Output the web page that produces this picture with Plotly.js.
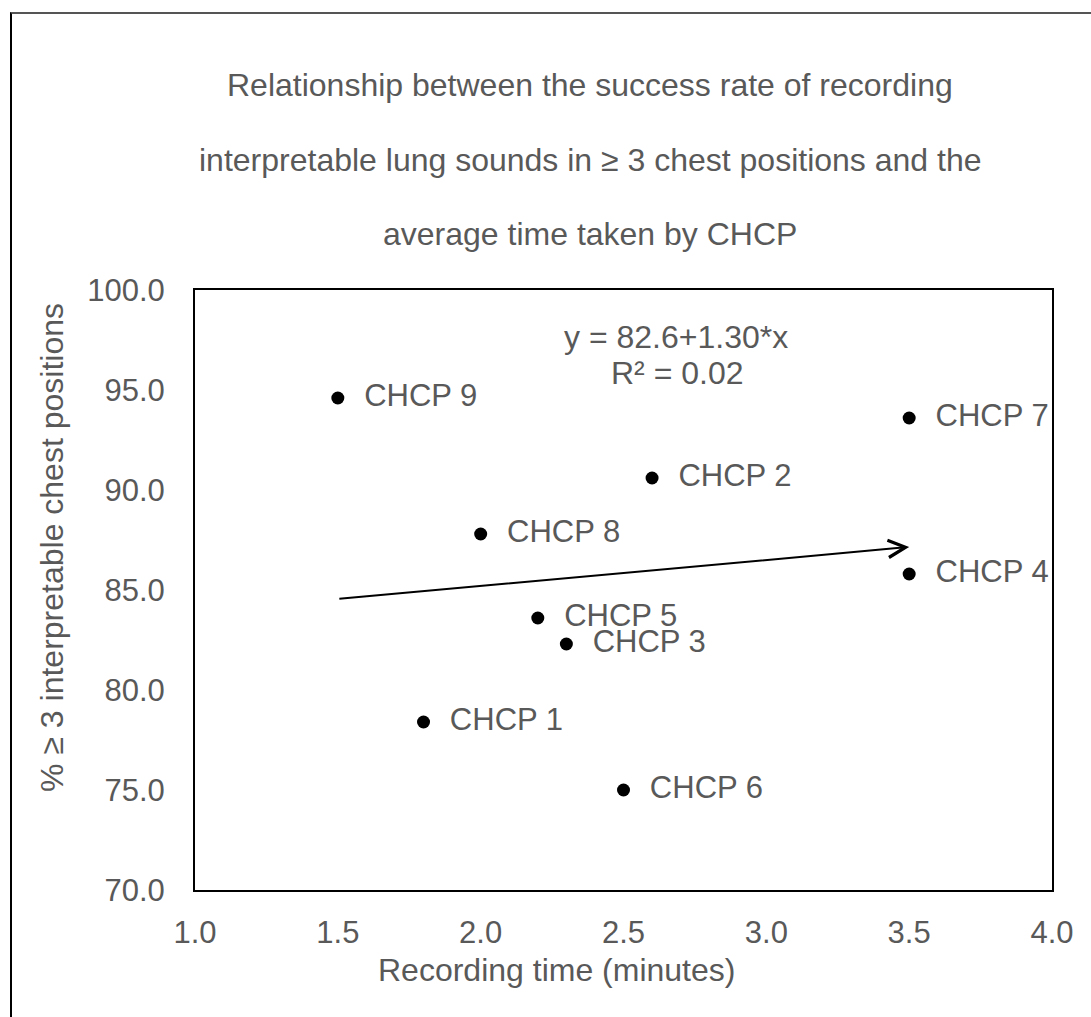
<!DOCTYPE html>
<html>
<head>
<meta charset="utf-8">
<script src="https://cdn.plot.ly/plotly-3.0.1.min.js"></script>
<style>
  html, body { margin: 0; padding: 0; background: #fff; overflow: hidden; }
  #chart { width: 1091px; height: 1017px; }
  #frame { position: absolute; left: 10px; top: 12px; width: 2000px; height: 2000px;
           border-left: 2px solid #000; border-top: 2px solid #555; pointer-events: none; }
</style>
</head>
<body>
<div id="chart"></div>
<div id="frame"></div>
<script>
// Data
const labels = ["CHCP 1", "CHCP 2", "CHCP 3", "CHCP 4", "CHCP 5", "CHCP 6", "CHCP 7", "CHCP 8", "CHCP 9"];
const recordingTime = [1.8, 2.6, 2.3, 3.5, 2.2, 2.5, 3.5, 2.0, 1.5];
const successRate = [78.4, 90.6, 82.3, 85.8, 83.6, 75.0, 93.6, 87.8, 94.6];
const fitIntercept = 82.6;
const fitSlope = 1.30;
const fitR2 = 0.02;
const titleLines = [
  "Relationship between the success rate of recording",
  "interpretable lung sounds in \u2265 3 chest positions and the",
  "average time taken by CHCP"
];
const xTickVals = [1.0, 1.5, 2.0, 2.5, 3.0, 3.5, 4.0];
const yTickVals = [70, 75, 80, 85, 90, 95, 100];

const textColor = "#595959";
const fontFam = "'Liberation Sans', Arial, sans-serif";
const fs = 32;
const tfs = 31;

const xFitStart = Math.min(...recordingTime);
const xFitEnd = Math.max(...recordingTime);

const trace = {
  type: "scatter",
  mode: "markers+text",
  x: recordingTime,
  y: successRate,
  text: labels.map(l => "\u00a0\u00a0" + l),
  textposition: "middle right",
  textfont: { family: fontFam, size: 31, color: textColor },
  marker: { color: "#000", size: 13 },
  cliponaxis: false,
  hoverinfo: "x+y"
};

const annotations = [];
const titleY = [1.3417, 1.2167, 1.0933];
titleLines.forEach((t, i) => {
  annotations.push({
    xref: "paper", yref: "paper", x: 0.461, y: titleY[i],
    text: t, showarrow: false, xanchor: "center", yanchor: "middle",
    font: { family: fontFam, size: fs, color: textColor }
  });
});
annotations.push({
  xref: "paper", yref: "paper", x: 0.561, y: 0.9217,
  text: "y = " + fitIntercept.toFixed(1) + "+" + fitSlope.toFixed(2) + "*x",
  showarrow: false, xanchor: "center", yanchor: "middle",
  font: { family: fontFam, size: fs, color: textColor }
});
annotations.push({
  xref: "paper", yref: "paper", x: 0.563, y: 0.8617,
  text: "R\u00b2 = " + fitR2.toFixed(2),
  showarrow: false, xanchor: "center", yanchor: "middle",
  font: { family: fontFam, size: fs, color: textColor }
});
// trend line drawn as an arrow
annotations.push({
  xref: "x", yref: "y", axref: "x", ayref: "y",
  x: xFitEnd, y: fitIntercept + fitSlope * xFitEnd,
  ax: xFitStart, ay: fitIntercept + fitSlope * xFitStart,
  text: "", showarrow: true, arrowhead: 5, arrowsize: 1.7, arrowwidth: 2, arrowcolor: "#000"
});
// axis titles
annotations.push({
  xref: "paper", yref: "paper", x: 0.4224, y: -0.1333,
  text: "Recording time (minutes)", showarrow: false, xanchor: "center", yanchor: "middle",
  font: { family: fontFam, size: fs, color: textColor }
});
annotations.push({
  xref: "paper", yref: "paper", x: -0.1669, y: 0.5717,
  text: "% \u2265 3 interpretable chest positions", showarrow: false, textangle: -90,
  xanchor: "center", yanchor: "middle",
  font: { family: fontFam, size: fs, color: textColor }
});

const layout = {
  width: 1091, height: 1017,
  margin: { l: 195, r: 39, t: 290, b: 127 },
  paper_bgcolor: "#fff", plot_bgcolor: "#fff",
  showlegend: false,
  xaxis: {
    range: [1.0, 4.0], tickvals: xTickVals, ticktext: xTickVals.map(v => v.toFixed(1)),
    showgrid: false, zeroline: false, showline: true, mirror: true,
    linecolor: "#000", linewidth: 2, ticks: "outside", ticklen: 14, tickcolor: "rgba(0,0,0,0)",
    tickfont: { family: fontFam, size: tfs, color: textColor }
  },
  yaxis: {
    range: [70, 100], tickvals: yTickVals, ticktext: yTickVals.map(v => v.toFixed(1)),
    showgrid: false, zeroline: false, showline: true, mirror: true,
    linecolor: "#000", linewidth: 2, ticks: "outside", ticklen: 22, tickcolor: "rgba(0,0,0,0)",
    tickfont: { family: fontFam, size: tfs, color: textColor }
  },
  annotations: annotations,
  font: { family: fontFam, color: textColor }
};

Plotly.newPlot("chart", [trace], layout, { displayModeBar: false, staticPlot: true });
</script>
</body>
</html>
